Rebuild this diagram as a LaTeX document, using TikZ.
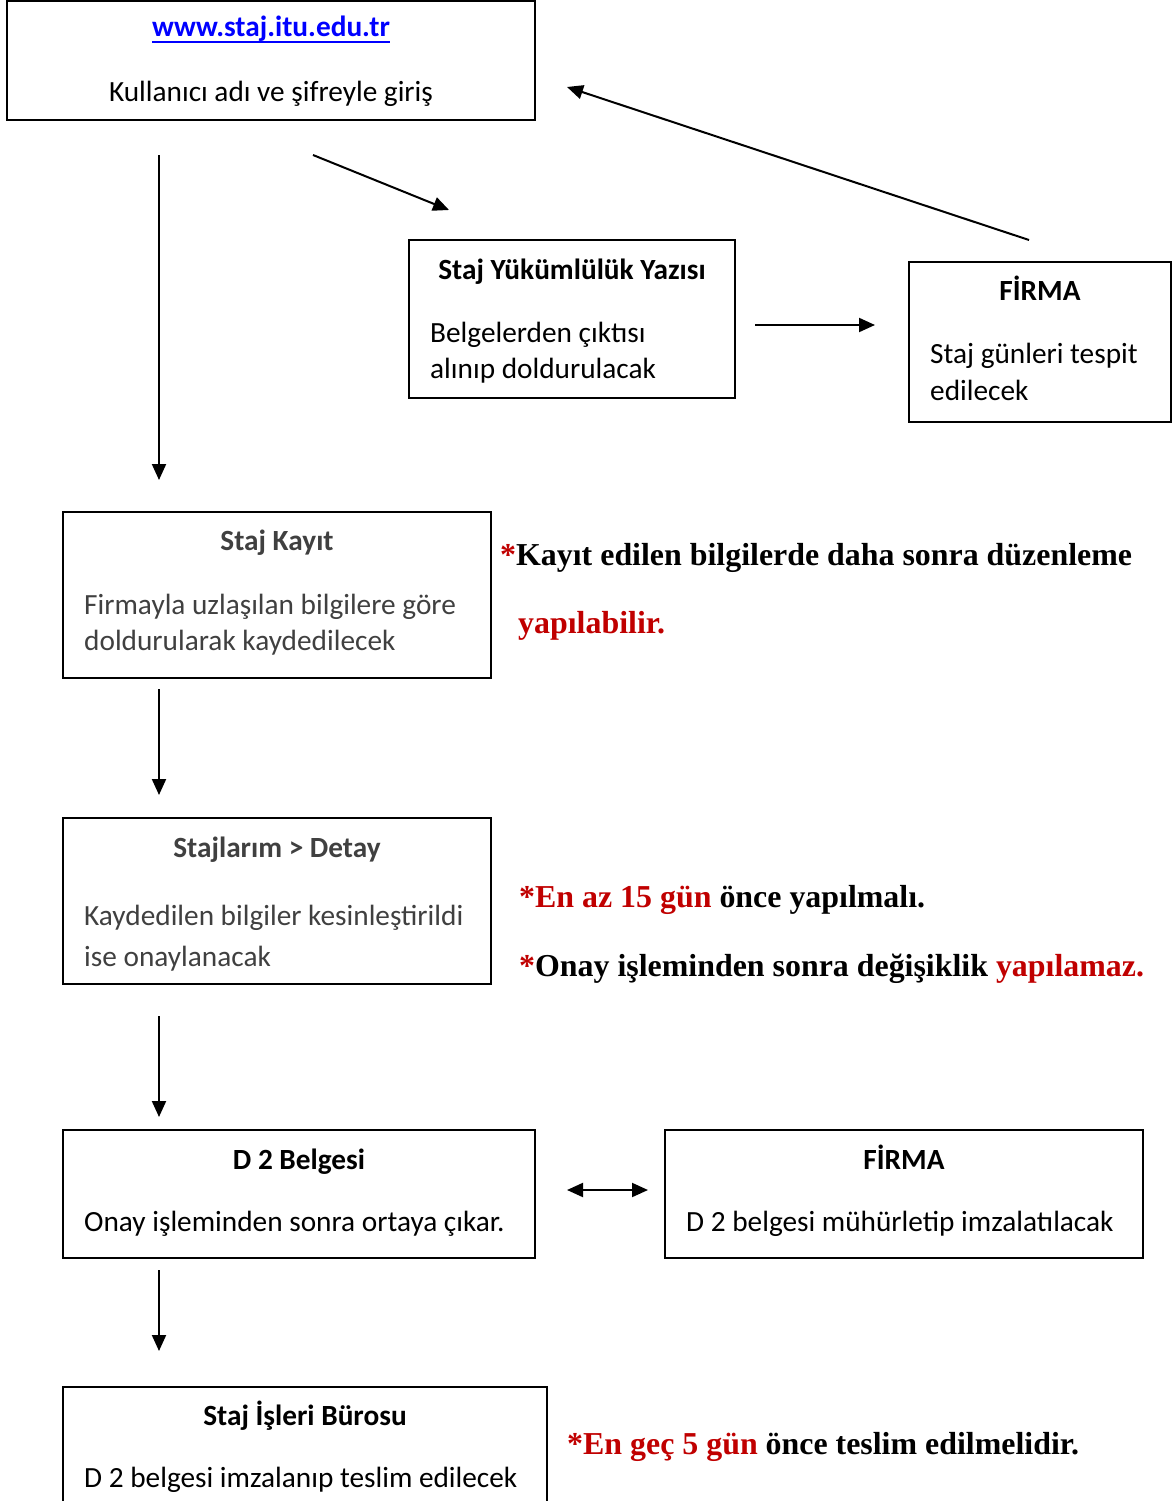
\documentclass[tikz,border=0pt]{standalone}
\usepackage{fontspec}
\setmainfont{Carlito}
\newfontfamily\notefont{Liberation Serif}
\usetikzlibrary{arrows.meta}

\definecolor{linkblue}{HTML}{0000FF}
\definecolor{notered}{HTML}{C00000}
\definecolor{greytxt}{HTML}{404040}
\newcommand\boxfont{\fontsize{29.3}{35}\selectfont}
\newcommand\notesize{\fontsize{31.9}{38}\selectfont\notefont\bfseries}

\tikzset{
  box/.style={draw, line width=2pt, inner sep=0pt},
  ttl/.style={inner sep=0pt, anchor=base, font=\boxfont\bfseries},
  txt/.style={inner sep=0pt, anchor=base west, font=\boxfont},
  note/.style={inner sep=0pt, anchor=base west, font=\notesize},
  arr/.style={line width=2pt, -{Triangle[length=16pt,width=14pt]}},
  darr/.style={line width=2pt, {Triangle[length=16pt,width=14pt]}-{Triangle[length=16pt,width=14pt]}}
}

\begin{document}
\begin{tikzpicture}[x=1pt,y=-1pt]
		%%%%% START %%%%%
		\useasboundingbox (0,0) rectangle (1175,1501);
		\clip (0,0) rectangle (1175,1501);
		
		% login
		\node[box, minimum width=528pt, minimum height=119pt] (web) at (271,60.5) {};
		\node[ttl, text=linkblue] (url) at (271,37) {www.staj.itu.edu.tr};
		\draw[linkblue, line width=1.6pt] ([yshift=-5pt]url.base west) -- ([yshift=-5pt]url.base east);
		\node[inner sep=0pt, anchor=base, font=\boxfont] (giris) at (271,102) {Kullanıcı adı ve şifreyle giriş};
		
		% yukumluluk
		\node[box, minimum width=326pt, minimum height=158pt] (yuk) at (572,319) {};
		\node[ttl] (yukt) at (572,279) {Staj Yükümlülük Yazısı};
		\node[txt] (yuk1) at (430,342) {Belgelerden çıktısı};
		\node[txt] (yuk2) at (430,378) {alınıp doldurulacak};
		
		% firma
		\node[box, minimum width=262pt, minimum height=160pt] (firma) at (1040,342) {};
		\node[ttl] (firmat) at (1040,300) {FİRMA};
		\node[txt] (firma1) at (930,363) {Staj günleri tespit};
		\node[txt] (firma2) at (930,400) {edilecek};
		
		% kayit
		\node[box, minimum width=428pt, minimum height=166pt] (kayit) at (277,595) {};
		\node[ttl, text=greytxt] (kayitt) at (277,550) {Staj Kayıt};
		\node[txt, text=greytxt] (kayit1) at (84,614) {Firmayla uzlaşılan bilgilere göre};
		\node[txt, text=greytxt] (kayit2) at (84,650) {doldurularak kaydedilecek};
		
		% detay
		\node[box, minimum width=428pt, minimum height=166pt] (detay) at (277,901) {};
		\node[ttl, text=greytxt] (detayt) at (277,857) {Stajlarım > Detay};
		\node[txt, text=greytxt] (detay1) at (84,925) {Kaydedilen bilgiler kesinleştirildi};
		\node[txt, text=greytxt] (detay2) at (84,966) {ise onaylanacak};
		
		% d2
		\node[box, minimum width=472pt, minimum height=128pt] (belge) at (299,1194) {};
		\node[ttl] (belget) at (299,1169) {D 2 Belgesi};
		\node[txt] (belge1) at (84,1231) {Onay işleminden sonra ortaya çıkar.};
		
		\node[box, minimum width=478pt, minimum height=128pt] (imza) at (904,1194) {};
		\node[ttl] (imzat) at (904,1169) {FİRMA};
		\node[txt] (imza1) at (686,1231) {D 2 belgesi mühürletip imzalatılacak};
		
		% buro
		\node[box, minimum width=484pt, minimum height=173pt] (buro) at (305,1473.5) {};
		\node[ttl] (burot) at (305,1425) {Staj İşleri Bürosu};
		\node[txt] (buro1) at (84,1487) {D 2 belgesi imzalanıp teslim edilecek};
		
		% notes
		\node[note] (not1) at (500,565) {\textcolor{notered}{*}Kayıt edilen bilgilerde daha sonra düzenleme};
		\node[note, text=notered] (not2) at (518,633) {yapılabilir.};
		\node[note] (not3) at (519,907) {\textcolor{notered}{*En az 15 gün} önce yapılmalı.};
		\node[note] (not4) at (519,976) {\textcolor{notered}{*}Onay işleminden sonra değişiklik \textcolor{notered}{yapılamaz.}};
		\node[note] (not5) at (567,1454) {\textcolor{notered}{*En geç 5 gün} önce teslim edilmelidir.};
		
		% arrows
		\coordinate (w1) at (159,155);
		\coordinate (k0) at (159,480);
		\coordinate (w2) at (313,155);
		\coordinate (y0) at (449,210);
		\coordinate (y1) at (755,325);
		\coordinate (f0) at (875,325);
		\coordinate (f1) at (1029,240);
		\coordinate (w0) at (567,87);
		\coordinate (k1) at (159,689);
		\coordinate (d0) at (159,795);
		\coordinate (d1) at (159,1016);
		\coordinate (b0) at (159,1117);
		\coordinate (b1) at (567,1190);
		\coordinate (i0) at (648,1190);
		\coordinate (b2) at (159,1270);
		\coordinate (s0) at (159,1351);
		
		\draw[arr] (w1) -- (k0);
		\draw[arr] (w2) -- (y0);
		\draw[arr] (y1) -- (f0);
		\draw[arr] (f1) -- (w0);
		\draw[arr] (k1) -- (d0);
		\draw[arr] (d1) -- (b0);
		\draw[darr] (b1) -- (i0);
		\draw[arr] (b2) -- (s0);
		%%%%% END %%%%%
	\end{tikzpicture}
\end{document}
